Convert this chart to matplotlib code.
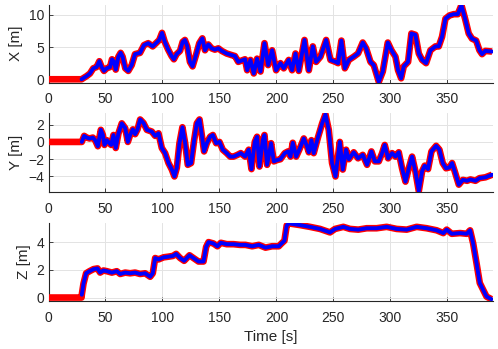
import matplotlib
matplotlib.use("Agg")
import matplotlib.pyplot as plt
import numpy as np

# ---- data ----
tx = [29, 33.5, 36.4, 39.3, 42.2, 44.6, 46.6, 48.7, 51, 54, 55.7, 57.5, 59, 61.3, 63.3, 65, 67.4, 70, 73,
      75.9, 80.3, 83.8, 87.5, 91.4, 94.9, 97.2, 99.6, 102, 105, 108, 110, 112.4, 115.4, 117.7, 119.7, 121.8,
      124.1, 126.4, 129.4, 132.3, 135, 137.3, 140.2, 143.1, 146, 149, 152, 156.3, 160.7, 163.6, 166.5, 169.4,
      172.4, 174.3, 177.2, 180.1, 183, 186, 189.5, 192.7, 196.2, 199.7, 203.5, 206.4, 210.8, 213.7, 216.7,
      219.6, 224.6, 228.4, 231.9, 234.8, 238.6, 243.6, 247.4, 251.8, 254.1, 257, 260, 263.5, 267.8, 271.6,
      275.7, 278.7, 282.5, 285.4, 289.8, 293.3, 297.7, 300.9, 304.4, 306.7, 309.4, 311.7, 315.5, 318.4, 321.9,
      324.9, 327.8, 331.3, 335.1, 339.5, 342.4, 345.3, 348.3, 351.8, 355.6, 359.1, 362.3, 365.8, 368.7, 371.6,
      375.2, 378.1, 380.4, 383.3, 389.2]
x_vals = [0, 0.5, 0.9, 1.7, 1.9, 2.8, 1.9, 1.3, 1.7, 1.9, 3.1, 2.7, 1.5, 3.5, 4.1, 3.5, 1.7, 1.3, 2.2,
          3.9, 4.1, 5.3, 5.6, 5.1, 5.7, 6.1, 7.2, 5.8, 4.6, 3.6, 3.1, 3.9, 4.4, 5.8, 6.1, 5.1,
          2.7, 2.0, 3.75, 5.6, 6.35, 4.5, 5.4, 4.8, 4.6, 4.8, 4.4, 4.0, 3.75, 3.6, 2.7, 2.9,
          3.1, 1.4, 3.0, 0.9, 3.2, 1.2, 5.6, 2.2, 4.5, 1.4, 2.5, 1.7, 3.0, 1.4, 4.0,
          1.3, 6.1, 1.4, 5.1, 2.7, 3.5, 6.1, 3.0, 2.7, 2.5, 6.0, 1.7, 3.0, 3.5, 4.0,
          5.7, 4.8, 2.7, 2.2, -0.4, 1.2, 5.7, 4.5, 3.5, 1.4, 0.15, 2.0, 2.7, 7.1, 6.9,
          4.0, 3.0, 2.5, 4.5, 5.1, 5.1, 6.6, 9.4, 9.9, 10.1, 10.1, 11.5, 9.2, 7.1, 6.3,
          6.0, 4.5, 3.9, 4.4, 4.3]

ty = [29.2, 31.3, 33.6, 36, 38.9, 40.9, 43.3, 45.9, 47.7, 49.1, 51.2, 53.5, 55, 57, 59, 61.4, 64.3, 67.3,
      69.6, 71.6, 74, 76, 78.1, 80.4, 83.3, 86.3, 90.6, 93.6, 96.5, 99.4, 102.3, 105.3, 108.2, 110.5, 112.6,
      114.9, 117.5, 119.9, 122.2, 125.1, 127.8, 130.1, 132.5, 134.5, 136.5, 138.9, 141.8, 144.2, 147.1, 150,
      152.9, 156.4, 159.4, 162.3, 165.8, 168.7, 172.5, 175.7, 178.1, 181, 183, 185.1, 188, 189.5, 191.8,
      195.3, 197.7, 200.6, 203.5, 207.3, 210.2, 212.3, 214.3, 217.3, 220.2, 224, 226.9, 228.4, 230.7, 232.7,
      236.6, 240.1, 243, 245.9, 248.8, 251.8, 255.6, 258.2, 261.1, 263.5, 267.8, 271.6, 275.7, 279.5, 283.3,
      286.3, 289.8, 292.7, 295, 298, 301.5, 304.4, 307.3, 310.2, 313.2, 316.1, 319, 321.9, 324.9, 327.8,
      330.1, 333, 336, 340.1, 343, 345.9, 348.8, 351.8, 354.1, 356.4, 360, 363.5, 367.3, 370.2, 374.6,
      378.1, 383.3, 389.2]
y_vals = [0, 0.7, 0.5, 0.4, 0.5, 0.2, -0.5, 1.4, 0.8, -0.35, 0.2, -0.15, -0.35, 0.8, -0.7, 1.0, 2.15, 1.6,
          0, 0.8, 1.45, 0.9, 1.45, 2.6, 2.2, 1.4, 1.2, 0.7, 1.0, -0.7, -1.3, -2.45, -3.2, -4.0, -3.0,
          -0.15, 1.7, -0.15, -2.65, -2.45, 0.2, 2.15, 2.6, 0.8, -1.1, -0.15, 0.6, 0.8, -0.15, 0,
          -0.9, -1.3, -1.7, -1.7, -1.5, -1.3, -1.7, -0.9, -3.15, 0, 0.6, -2.85, 0.2, 0.8, -2.65,
          -0.15, -2.25, -2.1, -2.0, -1.3, -1.1, -1.7, -0.1, -1.7, -0.85, 0.4, -0.55, -1.2, 0.2, -1.3,
          0.6, 2.15, 3.2, 1.4, -2.45, -4.0, 0, -3.2, -0.9, -2.0, -1.2, -1.9, -1.5, -2.65, -1.1,
          -2.25, -2.25, -1.3, -0.35, -1.9, -1.3, -1.7, -1.2, -3.05, -4.6, -3.05, -1.7, -3.4, -5.7, -3.4,
          -2.75, -3.15, -1.1, -0.45, -0.9, -2.45, -3.05, -2.95, -2.45, -3.4, -4.95, -4.4, -4.5, -4.35, -4.5,
          -4.2, -4.1, -3.8]

tz = [29.2, 30.7, 33, 36, 39.5, 43, 45.3, 48.2, 51.2, 55.6, 59.9, 62.9, 67.3, 71.6, 76, 80.4, 84.8, 89.2,
      91.5, 93.6, 96.5, 100.9, 105.3, 109.1, 112, 115.5, 119, 123.7, 127.2, 131.6, 136, 138.3, 140.4, 144.7,
      148.2, 151.2, 156.4, 162.3, 168.1, 172.8, 178.7, 184.5, 190.4, 196.2, 202, 204.4, 207, 209, 211, 215,
      220.6, 229.4, 238.2, 247, 251.4, 258.7, 264.5, 271.8, 279.2, 287.9, 296.7, 305.5, 314.3, 323, 331.8,
      340.6, 346.4, 349.4, 353.8, 361.1, 367, 369.9, 372.6, 375.5, 378.4, 381.4, 384.3, 388.7]
z_vals = [0.2, 1.0, 1.75, 1.9, 2.05, 2.1, 1.8, 1.95, 1.9, 1.8, 1.9, 1.7, 1.8, 1.75, 1.8, 1.7, 1.75, 1.5,
          1.75, 2.85, 2.75, 2.9, 2.95, 3.0, 3.15, 2.85, 2.65, 3.05, 2.85, 2.6, 2.6, 3.65, 4.0, 3.9,
          3.7, 3.95, 3.85, 3.85, 3.8, 3.8, 3.7, 3.8, 3.6, 3.7, 3.7, 3.9, 4.1, 5.2, 5.35, 5.3,
          5.23, 5.1, 4.95, 4.7, 4.95, 5.1, 4.95, 4.9, 5.0, 5.0, 5.1, 4.95, 4.9, 5.1, 5.0,
          4.85, 4.65, 4.9, 4.6, 4.65, 4.6, 4.85, 3.9, 2.5, 1.05, 0.55, 0.07, -0.12]

t_ref_start = [0, 29]
ref_start = [0, 0]

labels = ["X [m]", "Y [m]", "Z [m]"]
ylims = [(-0.5, 11.6), (-5.8, 3.35), (-0.25, 5.4)]
yticks = [[0, 5, 10], [-4, -2, 0, 2], [0, 2, 4]]
series = [(tx, x_vals), (ty, y_vals), (tz, z_vals)]

W, H = 498, 349
fig = plt.figure(figsize=(W / 100, H / 100), dpi=100)
plt.rcParams['font.family'] = ['Liberation Sans', 'DejaVu Sans']
dark = '#262626'

boxes = [(4.5, 82.5), (113, 192), (222.7, 301)]
left, right = 48.5, 493
for i, ((t, v), lab, yl, yt) in enumerate(zip(series, labels, ylims, yticks)):
    top, bot = boxes[i]
    ax = fig.add_axes([left / W, 1 - bot / H, (right - left) / W, (bot - top) / H])
    tr = list(t_ref_start) + list(t)
    vr = list(ref_start) + list(v)
    ax.plot(tr, vr, color='#ff0000', lw=4.8, solid_capstyle='butt', solid_joinstyle='round', zorder=3)
    ax.plot(t, v, color='#0000ff', lw=2.8, solid_capstyle='round', solid_joinstyle='round', zorder=4)
    ax.set_xlim(0, 390)
    ax.set_ylim(*yl)
    ax.set_xticks([0, 50, 100, 150, 200, 250, 300, 350])
    ax.set_yticks(yt)
    ax.grid(True, color='#e3e3e3', lw=0.7)
    ax.set_axisbelow(True)
    for s in ['top', 'right']:
        ax.spines[s].set_visible(False)
    for s in ['left', 'bottom']:
        ax.spines[s].set_color(dark)
        ax.spines[s].set_linewidth(0.8)
    ax.tick_params(direction='in', length=3, width=0.6, colors=dark, labelsize=10, pad=3)
    ax.tick_params(axis='x', pad=7)
    ax.set_ylabel(lab, fontsize=11, color=dark, labelpad=4)
    if i == 2:
        ax.set_xlabel("Time [s]", fontsize=11, color=dark, labelpad=4)

fig.savefig("out.png", dpi=100)
